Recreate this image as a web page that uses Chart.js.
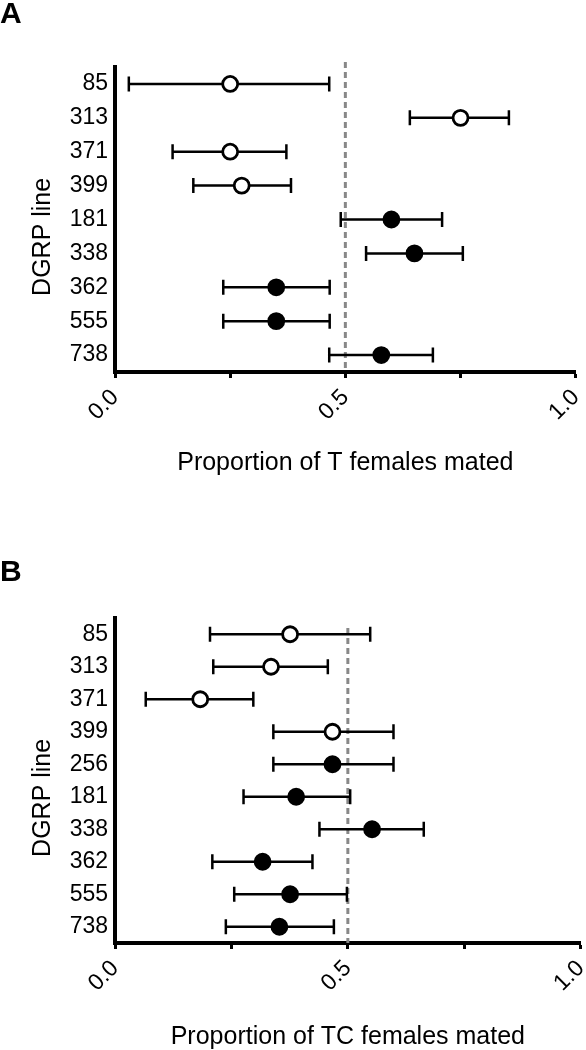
<!DOCTYPE html>
<html>
<head>
<meta charset="utf-8">
<script src="https://cdn.jsdelivr.net/npm/chart.js@4"></script>
<style>
  html, body { margin: 0; background: #fff; overflow: hidden; }
  .panel { position: absolute; left: 0; }
</style>
</head>
<body>
<div class="panel" style="top:0;width:586px;height:480px"><canvas id="chartA"></canvas></div>
<div class="panel" style="top:558px;width:591px;height:492px"><canvas id="chartB"></canvas></div>
<script>
// Panel A: T females
const linesA = ['85', '313', '371', '399', '181', '338', '362', '555', '738'];
const meanA = [0.25, 0.75, 0.25, 0.275, 0.60, 0.65, 0.35, 0.35, 0.578];
const lowA  = [0.03, 0.64, 0.125, 0.17, 0.49, 0.545, 0.235, 0.235, 0.465];
const highA = [0.465, 0.855, 0.372, 0.382, 0.71, 0.755, 0.466, 0.466, 0.69];
const openA = [true, true, true, true, false, false, false, false, false];

// Panel B: TC females
const linesB = ['85', '313', '371', '399', '256', '181', '338', '362', '555', '738'];
const meanB = [0.376, 0.335, 0.183, 0.467, 0.467, 0.389, 0.552, 0.317, 0.376, 0.353];
const lowB  = [0.204, 0.211, 0.066, 0.34, 0.34, 0.276, 0.439, 0.209, 0.256, 0.238];
const highB = [0.548, 0.457, 0.297, 0.598, 0.598, 0.505, 0.663, 0.424, 0.498, 0.47];
const openB = [true, true, true, true, false, false, false, false, false, false];

const xTicks = [0, 0.5, 1.0];
const refLine = 0.5;

Chart.defaults.font.family = '"Liberation Sans", Arial, sans-serif';
Chart.defaults.color = '#000';

// horizontal error bars + dashed reference line, drawn through the chart's scales
const errorBars = {
    id: 'errorBars',
    beforeDatasetsDraw(chart, args, opts) {
        const ctx = chart.ctx;
        const xs = chart.scales.x, ys = chart.scales.y;
        const area = chart.chartArea;

        ctx.save();
        ctx.strokeStyle = '#888';
        ctx.lineWidth = 3;
        ctx.setLineDash([6, 4]);
        ctx.beginPath();
        const rx = xs.getPixelForValue(refLine);
        ctx.moveTo(rx, area.top + opts.dashTop);
        ctx.lineTo(rx, area.bottom);
        ctx.stroke();
        ctx.restore();

        ctx.save();
        ctx.strokeStyle = '#000';
        ctx.lineWidth = 2.5;
        opts.labels.forEach((lab, i) => {
            const y = ys.getPixelForValue(i);
            const x1 = xs.getPixelForValue(opts.low[i]);
            const x2 = xs.getPixelForValue(opts.high[i]);
            ctx.beginPath();
            ctx.moveTo(x1, y); ctx.lineTo(x2, y);
            ctx.moveTo(x1, y - 7.5); ctx.lineTo(x1, y + 7.5);
            ctx.moveTo(x2, y - 7.5); ctx.lineTo(x2, y + 7.5);
            ctx.stroke();
        });
        ctx.restore();
    }
};

function makeChart(id, letter, labels, mean, low, high, open, xTitle, lay) {
    const ctx = document.getElementById(id).getContext('2d');
    return new Chart(ctx, {
        type: 'scatter',
        data: {
            labels: labels,
            datasets: [{
                data: labels.map((l, i) => ({ x: mean[i], y: l })),
                pointRadius: 7.5,
                pointHoverRadius: 7.5,
                pointBorderWidth: 2.8,
                pointBorderColor: '#000',
                pointBackgroundColor: open.map(o => o ? '#fff' : '#000')
            }]
        },
        options: {
            responsive: true,
            maintainAspectRatio: false,
            animation: false,
            events: [],
            layout: { padding: 0 },
            plugins: {
                legend: { display: false },
                tooltip: { enabled: false },
                title: {
                    display: true,
                    text: letter,
                    align: 'start',
                    font: { size: 30, weight: 'bold', lineHeight: 1 },
                    padding: { top: 0, bottom: lay.titleGap }
                },
                errorBars: { labels: labels, low: low, high: high, dashTop: lay.dashTop }
            },
            scales: {
                x: {
                    type: 'linear',
                    min: 0,
                    max: 1,
                    afterBuildTicks(scale) {
                        scale.ticks = [0, 0.25, 0.5, 0.75, 1.0].map(v => ({ value: v }));
                    },
                    afterFit(scale) {
                        scale.height = lay.xHeight;
                        scale.paddingLeft = 0;
                        scale.paddingRight = 0;
                    },
                    grid: { drawOnChartArea: false, drawTicks: true, tickLength: 6, tickWidth: 3, color: '#000' },
                    border: { display: true, width: 4, color: '#000' },
                    ticks: {
                        autoSkip: false,
                        minRotation: 45,
                        maxRotation: 45,
                        padding: 6,
                        font: { size: 23 },
                        callback: v => xTicks.includes(v) ? v.toFixed(1) : ''
                    },
                    title: {
                        display: true,
                        text: xTitle,
                        font: { size: 25, lineHeight: 1 },
                        padding: { top: 10, bottom: lay.xTitlePad }
                    }
                },
                y: {
                    type: 'category',
                    labels: labels,
                    offset: true,
                    afterFit(scale) { scale.width = 115; },
                    grid: { display: false, drawTicks: false },
                    border: { display: true, width: 4, color: '#000' },
                    ticks: { autoSkip: false, padding: 7, font: { size: 23 } },
                    title: {
                        display: true,
                        text: 'DGRP line\u00a0\u00a0\u00a0\u00a0\u00a0',
                        font: { size: 25 },
                        padding: { top: 28, bottom: 0 }
                    }
                }
            }
        },
        plugins: [errorBars]
    });
}

makeChart('chartA', 'A', linesA, meanA, lowA, highA, openA, 'Proportion of T females mated',
    { titleGap: 37, xHeight: 108, xTitlePad: 4, dashTop: -5 });
makeChart('chartB', 'B', linesB, meanB, lowB, highB, openB, 'Proportion of TC females mated',
    { titleGap: 30, xHeight: 107, xTitlePad: 0, dashTop: 10 });
</script>
</body>
</html>
